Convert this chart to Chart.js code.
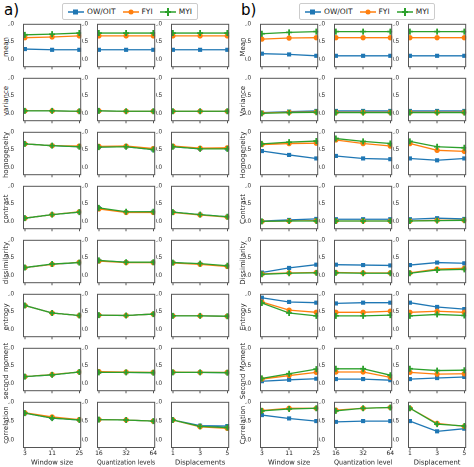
<!DOCTYPE html><html><head><meta charset="utf-8">
<script src="https://cdn.jsdelivr.net/npm/chart.js@4"></script>
<style>body{margin:0;width:474px;height:467px;background:#fff;position:relative;overflow:hidden;font-family:"DejaVu Sans",sans-serif}
canvas{position:absolute}.lab{position:absolute;font-size:15px}
.yt{position:absolute;font-size:7px;color:#222;white-space:nowrap;transform:translate(-50%,-50%) rotate(-90deg)}
.leg{position:absolute;top:3px;height:15px;border:1px solid #ccc;border-radius:2px;font-size:7.5px;display:flex;align-items:center;gap:7px;padding:0 5px;color:#222}
.leg span{display:flex;align-items:center;gap:3px}</style></head><body>
<div class="lab" style="left:4px;top:1px">a)</div><div class="lab" style="left:241px;top:1px">b)</div>
<script>
const seriesNames=["OW/OIT","FYI","MYI"];
const xTickSets=[["3","11","25"],["16","32","64"],["1","3","5"]];
const xTitlesA=["Window size","Quantization levels","Displacements"];
const xTitlesB=["Window size","Quantization level","Displacement"];
const rowsA=["mean","variance","homogeneity","contrast","dissimilarity","entropy","second moment","correlation"];
const rowsB=["Mean","Variance","Homogeneity","Contrast","Dissimilarity","Entropy","Second Moment","Correlation"];
// values[row][col] = [OW/OIT, FYI, MYI]
const valuesA=[
 [[[.29,.27,.27],[.61,.63,.66],[.69,.71,.74]],[[.27,.27,.27],[.66,.66,.66],[.74,.74,.74]],[[.27,.27,.27],[.66,.66,.66],[.74,.74,.74]]],
 [[[.07,.07,.06],[.07,.07,.06],[.07,.07,.06]],[[.07,.06,.06],[.07,.06,.06],[.07,.06,.06]],[[.06,.06,.06],[.06,.06,.06],[.06,.06,.06]]],
 [[[.66,.61,.58],[.66,.61,.60],[.66,.61,.58]],[[.57,.58,.50],[.59,.60,.53],[.57,.58,.50]],[[.58,.52,.52],[.60,.54,.55],[.58,.52,.52]]],
 [[[.09,.19,.26],[.09,.19,.27],[.09,.19,.26]],[[.37,.26,.27],[.35,.25,.25],[.38,.27,.27]],[[.26,.19,.13],[.25,.18,.12],[.26,.19,.13]]],
 [[[.22,.31,.36],[.22,.31,.37],[.22,.32,.36]],[[.41,.37,.37],[.40,.36,.36],[.42,.37,.37]],[[.36,.32,.26],[.35,.31,.25],[.36,.33,.27]]],
 [[[.67,.46,.39],[.67,.46,.39],[.67,.46,.39]],[[.40,.39,.43],[.40,.39,.43],[.40,.39,.43]],[[.38,.38,.37],[.38,.38,.37],[.38,.38,.37]]],
 [[[.19,.24,.32],[.19,.25,.32],[.19,.24,.32]],[[.32,.31,.30],[.33,.32,.31],[.31,.31,.30]],[[.31,.31,.30],[.32,.31,.31],[.31,.31,.30]]],
 [[[.70,.57,.52],[.71,.60,.53],[.70,.57,.52]],[[.53,.52,.49],[.53,.52,.49],[.53,.52,.49]],[[.52,.37,.36],[.52,.34,.30],[.52,.35,.32]]]];
const valuesB=[
 [[[.16,.14,.10],[.57,.60,.61],[.72,.76,.78]],[[.10,.10,.10],[.61,.61,.61],[.78,.78,.78]],[[.10,.10,.10],[.61,.61,.61],[.78,.78,.78]]],
 [[[.02,.05,.07],[.01,.03,.04],[.00,.02,.03]],[[.07,.07,.07],[.03,.03,.03],[.02,.02,.02]],[[.07,.07,.07],[.03,.03,.03],[.02,.02,.02]]],
 [[[.46,.35,.25],[.64,.67,.68],[.66,.71,.74]],[[.32,.25,.23],[.77,.67,.60],[.81,.73,.67]],[[.25,.20,.25],[.67,.48,.45],[.73,.58,.55]]],
 [[[.01,.04,.07],[.00,.01,.02],[.00,.01,.01]],[[.06,.06,.06],[.01,.01,.01],[.01,.01,.01]],[[.06,.09,.07],[.01,.03,.03],[.01,.02,.03]]],
 [[[.08,.21,.30],[.04,.07,.08],[.03,.06,.07]],[[.30,.29,.28],[.08,.07,.07],[.07,.06,.06]],[[.29,.36,.34],[.07,.18,.20],[.06,.15,.17]]],
 [[[.89,.77,.75],[.77,.54,.48],[.74,.46,.38]],[[.73,.75,.75],[.48,.48,.51],[.38,.38,.40]],[[.75,.63,.57],[.48,.51,.48],[.38,.42,.39]]],
 [[[.06,.10,.13],[.12,.22,.31],[.14,.27,.40]],[[.12,.12,.09],[.32,.32,.17],[.41,.41,.23]],[[.12,.15,.18],[.31,.26,.27],[.41,.36,.37]]],
 [[[.65,.56,.49],[.77,.83,.83],[.76,.81,.83]],[[.47,.49,.49],[.78,.83,.85],[.76,.83,.85]],[[.49,.22,.29],[.83,.43,.35],[.83,.41,.36]]]];
const colors=["#1f77b4","#ff7f0e","#2ca02c"];
const styles=["rect","circle","cross"];
const frame={id:"frame",afterDraw(c){const a=c.chartArea,x=c.ctx;x.save();x.strokeStyle="#555";x.lineWidth=1;x.strokeRect(a.left+.5,a.top+.5,a.right-a.left-1,a.bottom-a.top-1);x.restore();}};
function legend(left){const d=document.createElement("div");d.className="leg";d.style.left=left+"px";
 d.innerHTML=seriesNames.map((n,i)=>`<span><svg width="16" height="8"><line x1="0" y1="4" x2="16" y2="4" stroke="${colors[i]}" stroke-width="1.5"/>${i==0?`<rect x="5" y="1.5" width="5" height="5" fill="${colors[i]}"/>`:i==1?`<circle cx="8" cy="4" r="2.5" fill="${colors[i]}"/>`:`<path d="M8 0V8M5 4H11" stroke="${colors[i]}" stroke-width="2"/>`}</svg>${n}</span>`).join("");document.body.appendChild(d);}
legend(62);legend(299);
function panel(offX,colLefts,rows,values,xTitles){
 for(let r=0;r<8;r++){
  const t=document.createElement("div");t.className="yt";t.textContent=rows[r];
  t.style.left=(offX+6)+"px";t.style.top=(23+r*54+23.5)+"px";document.body.appendChild(t);
  for(let c=0;c<3;c++){
  const boxL=offX+colLefts[c],boxT=23+r*54,bottom=r==7;
  const padL=15,xh=bottom?19:3;
  const cv=document.createElement("canvas");
  const W=padL+60+4,H=5+47+xh;
  cv.style.left=(boxL-padL)+"px";cv.style.top=(boxT-5)+"px";cv.style.width=W+"px";cv.style.height=H+"px";
  document.body.appendChild(cv);
  new Chart(cv,{type:"line",plugins:[frame],data:{datasets:values[r][c].map((v,i)=>({label:seriesNames[i],order:2-i,data:v.map((y,k)=>({x:k,y})),borderColor:colors[i],backgroundColor:colors[i],borderWidth:1.3,pointStyle:styles[i],pointRadius:i==2?3:2.2,pointBorderWidth:i==2?1.8:1}))},
   options:{animation:false,responsive:false,devicePixelRatio:2,layout:{padding:{top:5,right:4,left:0,bottom:0}},
    plugins:{legend:{display:false},tooltip:{enabled:false}},
    scales:{x:{type:"linear",min:-0.07,max:2.07,afterFit:s=>{s.height=xh},afterBuildTicks:s=>{s.ticks=[0,1,2].map(v=>({value:v}))},
       border:{display:false},grid:{display:true,drawOnChartArea:false,tickLength:2,color:"#555"},
       ticks:{display:bottom,padding:0,font:{size:6,family:"DejaVu Sans"},color:"#222",maxRotation:0,callback:v=>xTickSets[c][v]},
       title:{display:bottom,text:xTitles[c],padding:0,font:{size:6.8,family:"DejaVu Sans"},color:"#222"}},
     y:{min:-0.22,max:1.0,afterFit:s=>{s.width=padL},afterBuildTicks:s=>{s.ticks=[0,0.5,1].map(v=>({value:v}))},
       border:{display:false},grid:{display:false},
       ticks:{padding:1,font:{size:6},color:"#222",callback:v=>v.toFixed(1)}}}}});
 }}}
panel(0,[23,97,171],rowsA,valuesA,xTitlesA);
panel(237,[23,97,171],rowsB,valuesB,xTitlesB);
</script></body></html>
